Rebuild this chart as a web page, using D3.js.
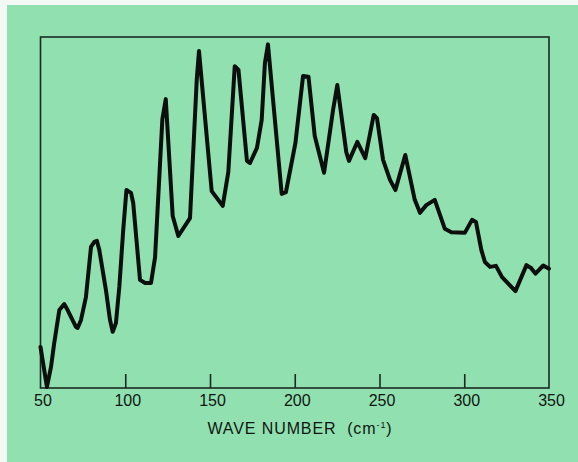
<!DOCTYPE html>
<html>
<head>
<meta charset="utf-8">
<script src="https://cdn.jsdelivr.net/npm/d3@7"></script>
<style>
  html, body { margin: 0; padding: 0; background: #f4f8f5; }
  svg { display: block; }
</style>
</head>
<body>
<svg id="chart" width="578" height="462"></svg>
<script>
// wave number (cm-1)
var waveNumber = [50, 53.8, 56.2, 58.1, 61.1, 64.0, 66.0, 70.9, 71.9, 73.9, 76.8, 79.8, 81.7, 83.3, 84.7,
  88.6, 91.0, 92.6, 94.5, 96.5, 98.8, 100.7, 103.4, 104.7, 108.7, 111.7, 115.2, 117.6, 121.9, 123.9,
  128.0, 131.3, 138.2, 142.2, 143.5, 151.0, 157.5, 160.8, 164.6, 166.8, 171.8, 173.6, 177.7, 180.5,
  182.4, 184.2, 192.3, 194.8, 200.4, 204.9, 208.1, 211.8, 217.3, 222.6, 225.1, 230.4, 232.0, 236.9,
  241.6, 246.6, 248.5, 252.1, 256.2, 259.4, 265.2, 270.8, 273.9, 277.6, 282.6, 288.5, 292.4, 300.3,
  304.6, 306.9, 310.1, 312.2, 315.2, 318.7, 322.3, 326.8, 330.2, 336.7, 339.4, 342.0, 346.6, 350];
// relative intensity (arbitrary units)
var intensity = [11.7, 0.3, 6.0, 12.8, 22.2, 23.9, 22.2, 17.4, 17.1, 19.4, 25.9, 40.2, 41.6, 41.9, 39.3,
  27.9, 19.4, 16.0, 18.5, 28.8, 45.0, 56.4, 55.6, 52.7, 30.8, 29.9, 29.9, 37.3, 76.6, 82.3,
  49.0, 43.3, 48.4, 88.0, 96.0, 56.1, 51.9, 61.5, 91.7, 90.6, 64.7, 64.1, 68.4, 76.4,
  92.6, 97.9, 55.3, 55.8, 69.8, 88.9, 88.7, 71.8, 61.3, 79.2, 86.3, 67.2, 64.7, 70.1,
  65.5, 77.8, 76.9, 65.0, 59.3, 56.4, 66.4, 53.6, 49.9, 52.1, 53.6, 45.4, 44.4, 44.2,
  47.9, 47.3, 39.3, 35.9, 34.5, 34.8, 31.6, 29.3, 27.6, 35.0, 34.2, 32.6, 34.9, 34.0];
var tickValues = [50, 100, 150, 200, 250, 300, 350];
var axisTitle = "WAVE NUMBER\u00a0 (cm";

var svg = d3.select("#chart");

// green card
svg.append("rect")
  .attr("x", 7).attr("y", 5)
  .attr("width", 571).attr("height", 457)
  .attr("fill", "#90e1af");

var plotLeft = 40.5, plotRight = 549, plotTop = 37, plotBottom = 388;

var x = d3.scaleLinear().domain([50, 350]).range([plotLeft, plotRight]);
var y = d3.scaleLinear().domain([0, 100]).range([plotBottom, plotTop]);

// frame
svg.append("rect")
  .attr("x", plotLeft).attr("y", plotTop)
  .attr("width", plotRight - plotLeft).attr("height", plotBottom - plotTop)
  .attr("fill", "none")
  .attr("stroke", "#1a2a22")
  .attr("stroke-width", 1.6);

// inward ticks + labels
var ax = svg.append("g")
  .attr("transform", "translate(0," + plotBottom + ")")
  .call(d3.axisBottom(x).tickValues(tickValues).tickSizeInner(-14).tickSizeOuter(0));
ax.select(".domain").remove();
ax.selectAll(".tick line")
  .attr("stroke", "#1a2a22")
  .attr("stroke-width", 1.6)
  .style("display", function(d){ return (d == 50 || d == 350) ? "none" : null; });
ax.selectAll(".tick text")
  .attr("fill", "#111513")
  .attr("font-family", "Liberation Sans, Arial, sans-serif")
  .attr("font-size", 16)
  .attr("dx", 2)
  .attr("dy", 0)
  .attr("y", 18);

// axis title
var t = svg.append("text")
  .attr("x", 300).attr("y", 434)
  .attr("text-anchor", "middle")
  .attr("font-family", "Liberation Sans, Arial, sans-serif")
  .attr("font-size", 16)
  .attr("letter-spacing", 0.9)
  .attr("fill", "#111513");
t.append("tspan").text(axisTitle);
t.append("tspan").attr("font-size", 9).attr("dy", -6).text("-1");
t.append("tspan").attr("dy", 6).text(")");

// spectrum trace
var pts = waveNumber.map(function(w, i){ return [w, intensity[i]]; });
var line = d3.line()
  .x(function(d){ return x(d[0]); })
  .y(function(d){ return y(d[1]); })
  .curve(d3.curveLinear);

svg.append("path")
  .datum(pts)
  .attr("d", line)
  .attr("fill", "none")
  .attr("stroke", "#0d0f0e")
  .attr("stroke-width", 4)
  .attr("stroke-linejoin", "round")
  .attr("stroke-linecap", "round");
</script>
</body>
</html>
